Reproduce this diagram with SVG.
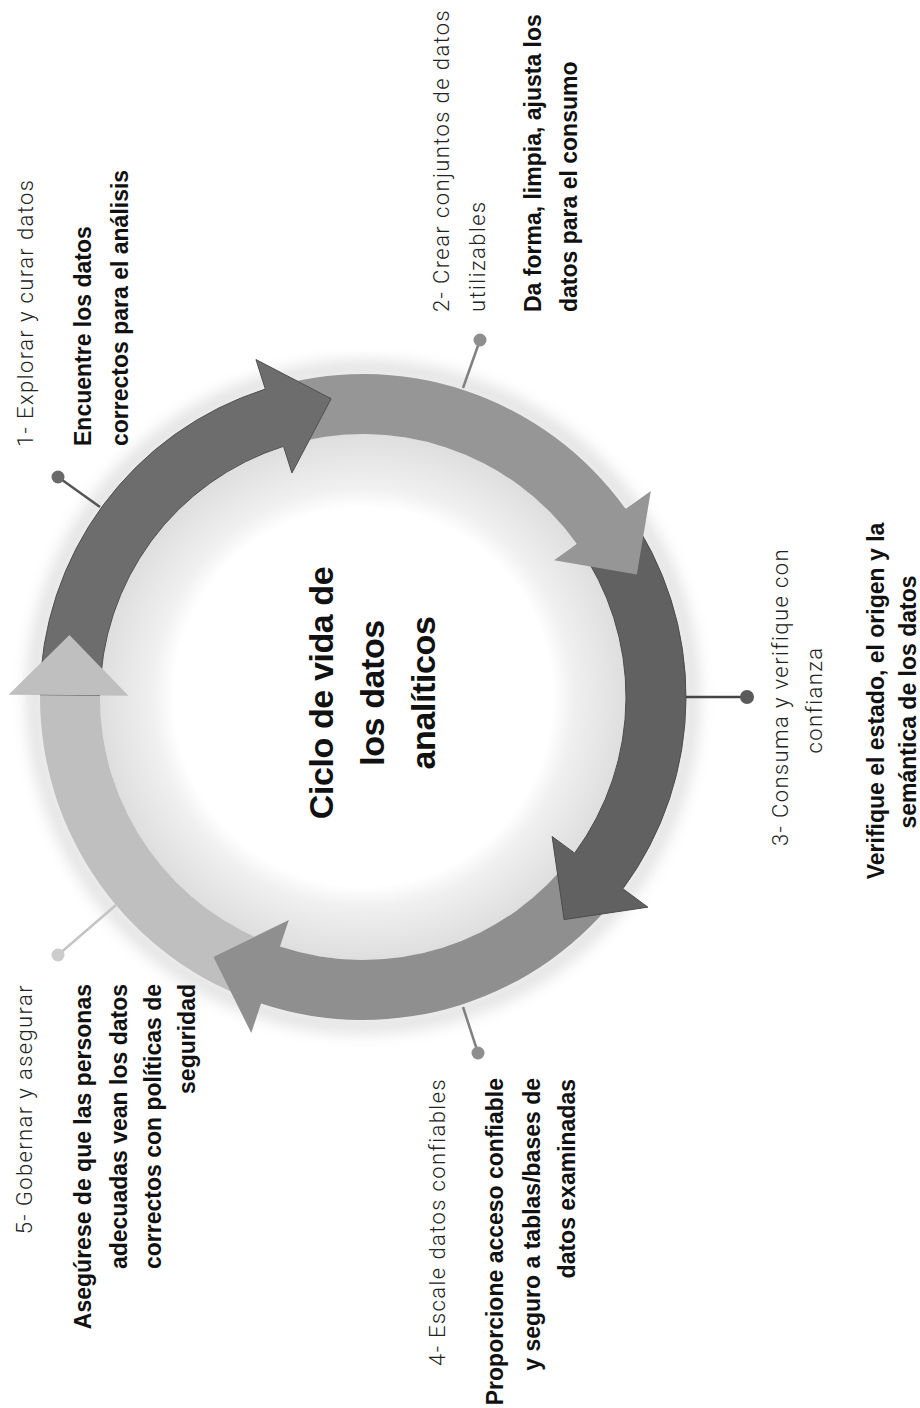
<svg xmlns="http://www.w3.org/2000/svg" width="920" height="1408" viewBox="0 0 920 1408">
<defs>
<radialGradient id="disk" cx="363" cy="697" r="263" gradientUnits="userSpaceOnUse">
<stop offset="0" stop-color="#ffffff"/>
<stop offset="0.72" stop-color="#ffffff"/>
<stop offset="0.8" stop-color="#f0f0f0"/>
<stop offset="1" stop-color="#dedede"/>
</radialGradient>
<filter id="blur" x="-20%" y="-20%" width="140%" height="140%"><feGaussianBlur stdDeviation="8"/></filter>
<style>
.lab{font-family:Roboto,"Liberation Sans",sans-serif;font-weight:300;font-size:22px;letter-spacing:1.4px;fill:#222}
.bold{font-family:"Liberation Sans",Arial,sans-serif;font-weight:bold;font-size:23px;fill:#111}
.title{font-family:"Liberation Sans",Arial,sans-serif;font-weight:bold;font-size:34px;letter-spacing:-0.4px;fill:#111;text-anchor:middle}
.stick{stroke-width:2.5;fill:none}
</style>
</defs>
<rect width="920" height="1408" fill="#ffffff"/>
<g id="ring">
<circle cx="363" cy="697" r="328" fill="none" stroke="#cccccc" stroke-width="14" filter="url(#blur)" opacity="0.7"/>
<circle cx="363" cy="697" r="263" fill="url(#disk)"/>
<path id="a5" fill="#bfbfbf" d="M261.05,1003.49 A323,323 0 0 1 40,694.7 L9,694.5 L69.45,635.1 L128,695.4 L100,695.2 A263,263 0 0 0 279.98,946.56 Z"/>
<path id="a4" fill="#8f8f8f" d="M622.92,888.75 A323,323 0 0 1 261.05,1003.49 L251.26,1032.9 L213.45,957.07 L288.82,919.99 L279.98,946.56 A263,263 0 0 0 574.64,853.13 Z"/>
<path id="a3" fill="#616161" stroke="#4c4c4c" stroke-width="1" d="M625.63,508.98 A323,323 0 0 1 622.92,888.75 L647.87,907.15 L564.13,919.59 L552.11,836.51 L574.64,853.13 A263,263 0 0 0 576.85,543.9 Z"/>
<path id="a2" fill="#969696" d="M265.33,389.12 A323,323 0 0 1 625.63,508.98 L650.84,490.93 L636.85,574.5 L554.08,560.2 L576.85,543.9 A263,263 0 0 0 283.48,446.31 Z"/>
<path id="a1" fill="#6d6d6d" stroke="#505050" stroke-width="1" d="M40,694.7 A323,323 0 0 1 265.33,389.12 L255.96,359.57 L331.12,398.7 L291.94,473 L283.48,446.31 A263,263 0 0 0 100,695.2 Z"/>
<polygon fill="#bfbfbf" points="9,694.5 69.45,635.1 128,695.4"/>
</g>
<g id="connectors">
<line class="stick" stroke="#555" x1="100" y1="507" x2="58" y2="477"/>
<circle cx="58" cy="477" r="6.5" fill="#6a6a6a"/>
<line class="stick" stroke="#808080" x1="463" y1="388" x2="480" y2="340"/>
<circle cx="480" cy="340" r="6.5" fill="#8e8e8e"/>
<line class="stick" stroke="#444" x1="686" y1="697" x2="747" y2="697"/>
<circle cx="747" cy="697" r="7" fill="#5a5a5a"/>
<line class="stick" stroke="#808080" x1="463" y1="1007" x2="478" y2="1053"/>
<circle cx="478" cy="1053" r="6.5" fill="#8e8e8e"/>
<line class="stick" stroke="#c4c4c4" x1="116" y1="905" x2="58" y2="955"/>
<circle cx="58" cy="955" r="6.5" fill="#cccccc"/>
</g>
<g id="center">
<text class="title" transform="translate(333,693) rotate(-90)">Ciclo de vida de</text>
<text class="title" transform="translate(384,693) rotate(-90)">los datos</text>
<text class="title" transform="translate(435,693) rotate(-90)">analíticos</text>
</g>
<g id="step1">
<text class="lab" transform="translate(33,447) rotate(-90)">1- Explorar y curar datos</text>
<text class="bold" transform="translate(91,446) rotate(-90)">Encuentre los datos</text>
<text class="bold" transform="translate(128,446) rotate(-90)">correctos para el análisis</text>
</g>
<g id="step2">
<text class="lab" transform="translate(449,312) rotate(-90)">2- Crear conjuntos de datos</text>
<text class="lab" transform="translate(485,312) rotate(-90)">utilizables</text>
<text class="bold" transform="translate(541,312) rotate(-90)">Da forma, limpia, ajusta los</text>
<text class="bold" transform="translate(577,312) rotate(-90)">datos para el consumo</text>
</g>
<g id="step3" text-anchor="middle">
<text class="lab" transform="translate(788,697) rotate(-90)">3- Consuma y verifique con</text>
<text class="lab" transform="translate(822,700) rotate(-90)">confianza</text>
<text class="bold" transform="translate(884,701) rotate(-90)">Verifique el estado, el origen y la</text>
<text class="bold" transform="translate(916,702) rotate(-90)">semántica de los datos</text>
</g>
<g id="step4" text-anchor="end">
<text class="lab" transform="translate(445,1078) rotate(-90)">4- Escale datos confiables</text>
<text class="bold" transform="translate(503,1078) rotate(-90)">Proporcione acceso confiable</text>
<text class="bold" transform="translate(540,1078) rotate(-90)">y seguro a tablas/bases de</text>
<text class="bold" transform="translate(575,1079) rotate(-90)">datos examinadas</text>
</g>
<g id="step5" text-anchor="end">
<text class="lab" transform="translate(32,984) rotate(-90)">5- Gobernar y asegurar</text>
<text class="bold" transform="translate(91,984) rotate(-90)">Asegúrese de que las personas</text>
<text class="bold" transform="translate(127,984) rotate(-90)">adecuadas vean los datos</text>
<text class="bold" transform="translate(161,984) rotate(-90)">correctos con políticas de</text>
<text class="bold" transform="translate(195,984) rotate(-90)">seguridad</text>
</g>
</svg>
